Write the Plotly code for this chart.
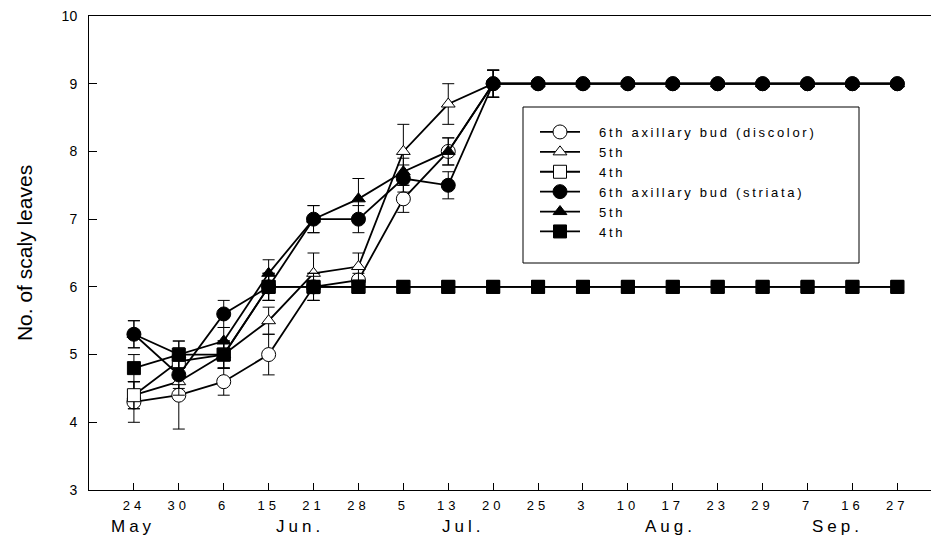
import plotly.graph_objects as go

dates = ["24", "30", "6", "15", "21", "28", "5", "13", "20",
         "25", "3", "10", "17", "23", "29", "7", "16", "27"]
months = ["May", "Jun.", "Jul.", "Aug.", "Sep."]
month_pos = [0.0, 3.7, 7.33, 11.94, 15.66]

disc_6th = [4.3, 4.4, 4.6, 5.0, 6.0, 6.1, 7.3, 8.0, 9.0, 9.0, 9.0, 9.0, 9.0, 9.0, 9.0, 9.0, 9.0, 9.0]
disc_5th = [4.4, 4.6, 5.0, 5.5, 6.2, 6.3, 8.0, 8.7, 9.0, 9.0, 9.0, 9.0, 9.0, 9.0, 9.0, 9.0, 9.0, 9.0]
disc_4th = [4.4, 4.9, 5.0, 6.0, 6.0, 6.0, 6.0, 6.0, 6.0, 6.0, 6.0, 6.0, 6.0, 6.0, 6.0, 6.0, 6.0, 6.0]
str_6th = [5.3, 4.7, 5.6, 6.0, 7.0, 7.0, 7.6, 7.5, 9.0, 9.0, 9.0, 9.0, 9.0, 9.0, 9.0, 9.0, 9.0, 9.0]
str_5th = [5.3, 5.0, 5.2, 6.2, 7.0, 7.3, 7.7, 8.0, 9.0, 9.0, 9.0, 9.0, 9.0, 9.0, 9.0, 9.0, 9.0, 9.0]
str_4th = [4.8, 5.0, 5.0, 6.0, 6.0, 6.0, 6.0, 6.0, 6.0, 6.0, 6.0, 6.0, 6.0, 6.0, 6.0, 6.0, 6.0, 6.0]

disc_6th_err = [0.3, 0.5, 0.2, 0.3, 0.2, 0.1, 0.2, 0.2, 0.2, 0, 0, 0, 0, 0, 0, 0, 0, 0]
disc_5th_err = [0.2, 0.2, 0.2, 0.2, 0.3, 0.2, 0.4, 0.3, 0.2, 0, 0, 0, 0, 0, 0, 0, 0, 0]
disc_4th_err = [0.2, 0.2, 0.2, 0.2, 0.2, 0, 0, 0, 0, 0, 0, 0, 0, 0, 0, 0, 0, 0]
str_6th_err = [0.2, 0.2, 0.2, 0.2, 0.2, 0.2, 0.2, 0.2, 0.2, 0, 0, 0, 0, 0, 0, 0, 0, 0]
str_5th_err = [0.2, 0.2, 0.2, 0.2, 0.2, 0.3, 0.2, 0.2, 0.2, 0, 0, 0, 0, 0, 0, 0, 0, 0]
str_4th_err = [0.2, 0.2, 0.2, 0.2, 0.2, 0, 0, 0, 0, 0, 0, 0, 0, 0, 0, 0, 0, 0]

names = ["6th axillary bud (discolor)", "5th", "4th",
         "6th axillary bud (striata)", "5th", "4th"]

FONT = "Liberation Sans, Arial, sans-serif"
xi = list(range(len(dates)))

series = [
    # (values, errors, name, symbol, filled, size, legendrank)
    (disc_6th, disc_6th_err, names[0], "circle", False, 14, 1),
    (disc_5th, disc_5th_err, names[1], "triangle-up", False, 12, 2),
    (disc_4th, disc_4th_err, names[2], "square", False, 13, 3),
    (str_5th, str_5th_err, names[4], "triangle-up", True, 12, 5),
    (str_6th, str_6th_err, names[3], "circle", True, 14, 4),
    (str_4th, str_4th_err, names[5], "square", True, 13, 6),
]

fig = go.Figure()
for vals, errs, name, sym, filled, size, rank in series:
    fig.add_trace(go.Scatter(
        x=xi, y=vals, name=name, mode="lines+markers",
        legendrank=rank,
        line=dict(color="black", width=1.8),
        marker=dict(symbol=sym, size=size,
                    color="black" if filled else "white",
                    line=dict(color="black", width=1)),
        error_y=dict(type="data", array=errs, visible=True,
                     color="black", thickness=1, width=6),
    ))

for m, p in zip(months, month_pos):
    fig.add_annotation(x=p, y=-0.076, xref="x", yref="paper", text=m,
                       showarrow=False, xanchor="center", yanchor="middle",
                       font=dict(family=FONT, size=17, color="black"))

# plot area in page pixels: x 89..931, y 16..490
PL, PR, PT, PB = 89, 931, 16, 490
PW, PH = PR - PL, PB - PT

# legend frame
fig.add_shape(type="rect", xref="paper", yref="paper",
              x0=(523 - PL) / PW, x1=(859 - PL) / PW,
              y0=(PB - 263) / PH, y1=(PB - 107) / PH,
              line=dict(color="black", width=1), fillcolor="white", layer="below")

fig.update_layout(
    width=931, height=541,
    margin=dict(l=PL, r=931 - PR, t=PT, b=541 - PB),
    plot_bgcolor="white", paper_bgcolor="white",
    font=dict(family=FONT, size=13, color="black"),
    showlegend=True,
    legend=dict(x=(535 - PL) / PW, y=(PB - 117) / PH, xanchor="left", yanchor="top",
                bgcolor="rgba(0,0,0,0)", borderwidth=0, itemwidth=40,
                font=dict(family=FONT, size=13, color="black"),
                traceorder="normal"),
    xaxis=dict(range=[-1, 17.75], tickmode="array", tickvals=xi, ticktext=dates,
               showgrid=False, zeroline=False, showline=True, linecolor="black",
               linewidth=1, mirror=True, ticks="inside", ticklen=7, tickcolor="black",
               tickfont=dict(family=FONT, size=13), ticklabelstandoff=3),
    yaxis=dict(range=[3, 10], dtick=1, tick0=3,
               showgrid=False, zeroline=False, showline=True, linecolor="black",
               linewidth=1, ticks="inside", ticklen=8, tickcolor="black",
               tickfont=dict(family=FONT, size=14), ticklabelstandoff=8,
               title=dict(text="No. of scaly leaves", font=dict(family=FONT, size=21),
                          standoff=23)),
)

post = """
document.body.style.margin = '0';
document.querySelectorAll('.legend .scrollbox').forEach(function(e){e.removeAttribute('clip-path');});
document.querySelectorAll('.xtick text').forEach(function(t){t.style.letterSpacing='4px';});
document.querySelectorAll('.legendtext').forEach(function(t){
  t.style.letterSpacing='2.7px';
  t.setAttribute('x', (parseFloat(t.getAttribute('x')) || 0) + 14);
});
document.querySelectorAll('.annotation-text').forEach(function(t){t.style.letterSpacing='4px';});
"""

fig.write_html("out.html", post_script=post, config={"displayModeBar": False})
